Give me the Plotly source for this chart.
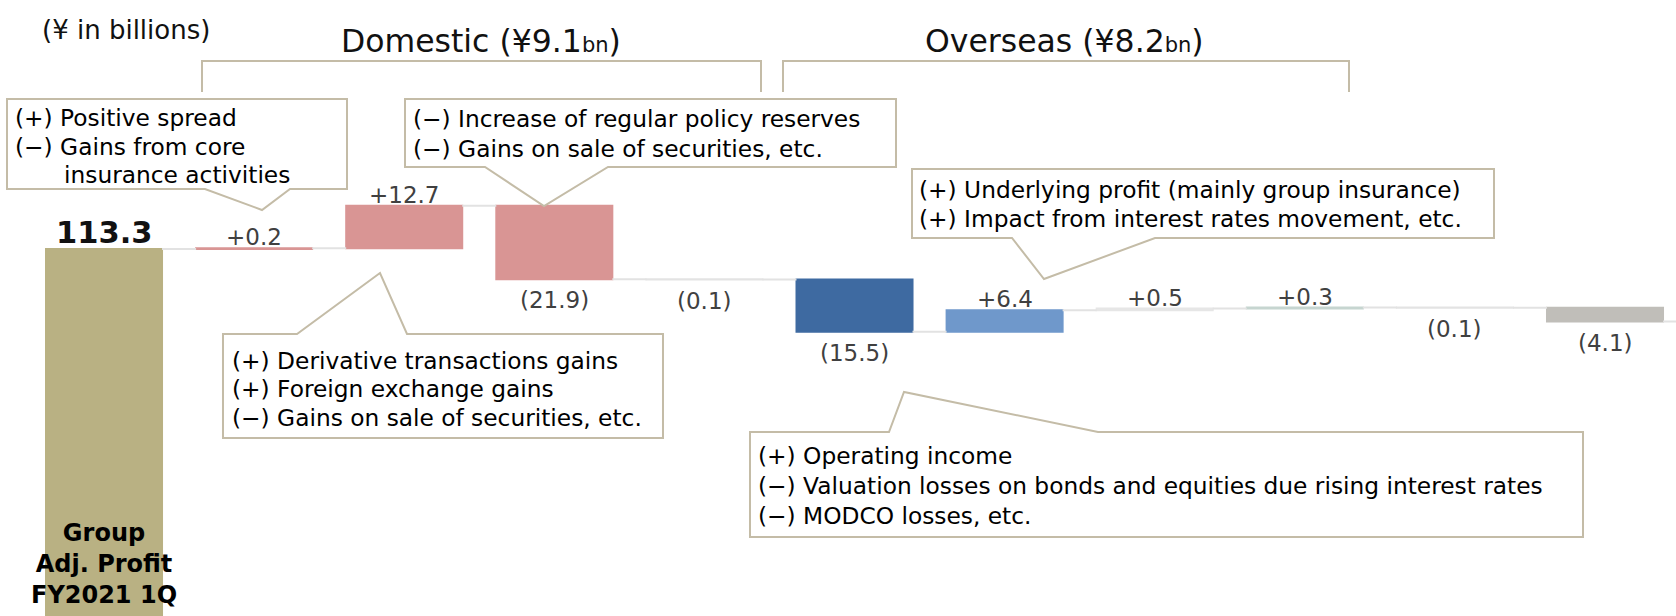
import plotly.graph_objects as go

# ---------------- data ----------------
categories = ["Group Adj. Profit FY2021 1Q", "Domestic 1", "Domestic 2", "Domestic 3", "Domestic 4",
              "Overseas 1", "Overseas 2", "Overseas 3", "Overseas 4", "Other 1", "Other 2"]
start_value = 113.3
changes = [0.2, 12.7, -21.9, -0.1, -15.5, 6.4, 0.5, 0.3, -0.1, -4.1]

group_title_domestic = "Domestic (¥9.1"
group_title_overseas = "Overseas (¥8.2"
unit_label = "(¥ in billions)"
start_label = "Group<br>Adj. Profit<br>FY2021 1Q"

callout_A = ["(+) Positive spread", "(−) Gains from core"]
callout_A_cont = "insurance activities"
callout_B = ["(−) Increase of regular policy reserves", "(−) Gains on sale of securities, etc."]
callout_C = ["(+) Underlying profit (mainly group insurance)", "(+) Impact from interest rates movement, etc."]
callout_D = ["(+) Derivative transactions gains", "(+) Foreign exchange gains", "(−) Gains on sale of securities, etc."]
callout_E = ["(+) Operating income", "(−) Valuation losses on bonds and equities due rising interest rates",
             "(−) MODCO losses, etc."]

# ---------------- styles ----------------
bar_colors = ["#b9b183", "#d99594", "#d99594", "#d99594", "#e3e3e3",
              "#3e6aa1", "#6f98cb", "#e6e6e6", "#c6d5d0", "#e3e3e3", "#c0beb9"]
W, H = 1676, 616
LINE = "#c4bca7"
FONT = "DejaVu Sans"
BAR_W = 0.773

# ---------------- computed waterfall ----------------
n = len(categories)
xs = list(range(n))
bases = [0.0]
heights = [start_value]
ends = [start_value]
level = start_value
for d in changes:
    bases.append(level)
    heights.append(d)
    level = round(level + d, 4)
    ends.append(level)

fig = go.Figure()

# connectors (only across the gaps between bars)
cx, cy = [], []
hw = BAR_W / 2
for i in range(n):
    cx += [i + hw, i + 1 - hw if i < n - 1 else i + 1, None]
    cy += [ends[i], ends[i], None]
fig.add_trace(go.Scatter(x=cx, y=cy, mode="lines", line=dict(color="#e2e2e2", width=2),
                         hoverinfo="skip", showlegend=False))

fig.add_trace(go.Bar(x=xs, y=heights, base=bases, width=BAR_W,
                     marker=dict(color=bar_colors, line=dict(color=bar_colors, width=2)),
                     hovertext=categories, showlegend=False))


def px(x):
    return x / W


def py(y):
    return 1 - y / H


annotations = []

# value labels
annotations.append(dict(x=0, y=ends[0], xref="x", yref="y", text="<b>%.1f</b>" % start_value,
                        showarrow=False, yanchor="middle", yshift=17,
                        font=dict(family=FONT, size=30.5, color="#111111")))
for i, d in enumerate(changes, start=1):
    if d >= 0:
        txt, yv, shift = "+%.1f" % d, max(bases[i], ends[i]), 11
    else:
        txt, yv, shift = "(%.1f)" % abs(d), min(bases[i], ends[i]), -21
    annotations.append(dict(x=i, y=yv, xref="x", yref="y", text=txt, showarrow=False,
                            yanchor="middle", yshift=shift,
                            font=dict(family=FONT, size=23, color="#404040")))

# start bar label
annotations.append(dict(x=0, y=py(564), xref="x", yref="paper", text="<b>%s</b>" % start_label,
                        showarrow=False, yanchor="middle", xanchor="center",
                        font=dict(family=FONT, size=24, color="#000000")))

# unit + group titles
annotations.append(dict(x=px(126), y=py(30), xref="paper", yref="paper", text=unit_label,
                        showarrow=False, xanchor="center", yanchor="middle",
                        font=dict(family=FONT, size=26, color="#111111")))
for title, cxp in [(group_title_domestic, 481), (group_title_overseas, 1064)]:
    annotations.append(dict(x=px(cxp), y=py(41), xref="paper", yref="paper",
                            text=title + "<span style='font-size:21px'>bn</span>)",
                            showarrow=False, xanchor="center", yanchor="middle",
                            font=dict(family=FONT, size=31.5, color="#111111")))


def add_lines(lines, x0, ys, size=23.3):
    for t, y in zip(lines, ys):
        annotations.append(dict(x=px(x0), y=py(y), xref="paper", yref="paper", text=t,
                                showarrow=False, xanchor="left", yanchor="middle",
                                font=dict(family=FONT, size=size, color="#000000")))


add_lines(callout_A, 13, [117, 146])
add_lines([callout_A_cont], 62, [174])
add_lines(callout_B, 411, [119, 148])
add_lines(callout_C, 917, [189, 218])
add_lines(callout_D, 230, [360, 388, 417])
add_lines(callout_E, 756, [455, 485, 515])

# shapes
def poly(points, closed=True):
    s = "M " + " L ".join("%.5f,%.5f" % (px(x), py(y)) for x, y in points)
    return s + (" Z" if closed else "")


shapes = []
callouts = [
    [(7, 99), (347, 99), (347, 189), (290, 189), (262, 210), (205, 189), (7, 189)],
    [(405, 99), (896, 99), (896, 167), (608, 167), (544, 206), (485, 167), (405, 167)],
    [(912, 169), (1494, 169), (1494, 238), (1155, 238), (1044, 279), (1012, 238), (912, 238)],
    [(223, 334), (297, 334), (380, 273), (407, 334), (663, 334), (663, 438), (223, 438)],
    [(750, 432), (889, 432), (904, 392), (1098, 432), (1583, 432), (1583, 537), (750, 537)],
]
for pts in callouts:
    shapes.append(dict(type="path", path=poly(pts), xref="paper", yref="paper",
                       line=dict(color=LINE, width=2), fillcolor="white", layer="above"))
for pts in [[(202, 92), (202, 61), (761, 61), (761, 92)],
            [(783, 92), (783, 61), (1349, 61), (1349, 92)]]:
    shapes.append(dict(type="path", path=poly(pts, closed=False), xref="paper", yref="paper",
                       line=dict(color=LINE, width=2), layer="above"))

fig.update_layout(
    width=W, height=H,
    margin=dict(l=0, r=0, t=0, b=0),
    paper_bgcolor="white", plot_bgcolor="white",
    xaxis=dict(range=[-0.693, 10.473], visible=False, showgrid=False, zeroline=False),
    yaxis=dict(range=[4.1, 187.4], visible=False, showgrid=False, zeroline=False),
    annotations=annotations,
    shapes=shapes,
    showlegend=False,
)

fig.write_html("out.html", config={"displayModeBar": False},
               post_script="document.body.style.margin='0px';document.body.style.overflow='hidden';")
